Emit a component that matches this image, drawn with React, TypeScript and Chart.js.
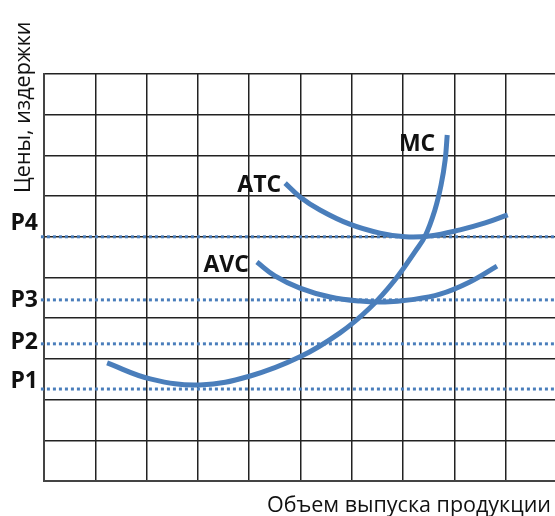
import React, { useEffect, useRef } from "react";
import { Chart, registerables } from "chart.js";

Chart.register(...registerables);

// Curve readings (x = output quantity in grid units, y = price/cost in grid units)
const mcX = [1.23, 2.07, 3.04, 4.02, 4.99, 5.77, 6.35, 6.84, 7.23, 7.43, 7.62, 7.74, 7.82, 7.86];
const mcY = [2.9, 2.51, 2.36, 2.58, 3.05, 3.64, 4.25, 4.94, 5.63, 6.02, 6.66, 7.27, 7.89, 8.5];
const atcX = [4.7, 4.99, 5.38, 5.96, 6.55, 7.04, 7.52, 8.11, 8.6, 9.04];
const atcY = [7.32, 6.98, 6.66, 6.31, 6.09, 6.0, 6.02, 6.17, 6.34, 6.54];
const avcX = [4.15, 4.5, 4.99, 5.58, 6.16, 6.65, 7.13, 7.72, 8.3, 8.83];
const avcY = [5.38, 5.04, 4.74, 4.52, 4.42, 4.4, 4.45, 4.59, 4.89, 5.28];

const priceLabels = ["P1", "P2", "P3", "P4"];
const priceLevels = [2.26, 3.37, 4.45, 6.0];

const curveNames = ["MC", "ATC", "AVC"];
const xTitle = "Объем выпуска продукции";
const yTitle = "Цены, издержки";

const xMin = 0;
const xMax = 10;
const yMin = 0;
const yMax = 10;

const BLUE = "#4a7ebb";

const toPoints = (xs: number[], ys: number[]) => xs.map((x, i) => ({ x, y: ys[i] }));

const labelsPlugin = {
  id: "econLabels",
  afterDatasetsDraw(chart: any) {
    const ctx = chart.ctx;
    const xs = chart.scales.x;
    const ys = chart.scales.y;
    ctx.save();
    ctx.fillStyle = "#111";
    ctx.font = "bold 23px 'Open Sans'";
    ctx.textBaseline = "alphabetic";
    ctx.textAlign = "right";
    // price labels on the left
    const pOffsets = [-1, 5, 7, -7];
    priceLevels.forEach((p, i) => {
      ctx.fillText(priceLabels[i], xs.getPixelForValue(xMin) - 6, ys.getPixelForValue(p) + pOffsets[i]);
    });
    // curve labels
    const mcEnd = mcX.length - 1;
    ctx.fillText(curveNames[0], xs.getPixelForValue(mcX[mcEnd]) - 12, ys.getPixelForValue(mcY[mcEnd]) + 16);
    ctx.fillText(curveNames[1], xs.getPixelForValue(atcX[0]) - 4, ys.getPixelForValue(atcY[0]) + 9);
    ctx.fillText(curveNames[2], xs.getPixelForValue(avcX[0]) - 8, ys.getPixelForValue(avcY[0]) + 10);

    // axis titles
    ctx.font = "21.5px 'Open Sans'";
    ctx.textAlign = "right";
    ctx.fillText(xTitle, 551, 512);
    ctx.save();
    ctx.translate(30, 193);
    ctx.rotate(-Math.PI / 2);
    ctx.textAlign = "left";
    ctx.fillText(yTitle, 0, 0);
    ctx.restore();
    ctx.restore();
  },
};

export default function App() {
  const ref = useRef<HTMLCanvasElement | null>(null);
  useEffect(() => {
    if (!ref.current) return;
    const curveStyle = {
      borderColor: BLUE,
      borderWidth: 5,
      pointRadius: 0,
      fill: false,
      tension: 0.4,
      showLine: true,
    };
    const dotted = priceLevels.map((p, i) => ({
      label: priceLabels[i],
      data: [
        { x: xMin - 0.06, y: p },
        { x: xMax, y: p },
      ],
      borderColor: BLUE,
      borderWidth: 3,
      borderDash: [3, 3],
      pointRadius: 0,
      fill: false,
      clip: false as any,
      showLine: true,
    }));
    const chart = new Chart(ref.current, {
      type: "scatter",
      data: {
        datasets: [
          { label: curveNames[0], data: toPoints(mcX, mcY), ...curveStyle },
          { label: curveNames[1], data: toPoints(atcX, atcY), ...curveStyle },
          { label: curveNames[2], data: toPoints(avcX, avcY), ...curveStyle },
          ...dotted,
        ] as any,
      },
      options: {
        responsive: false,
        devicePixelRatio: 1,
        animation: false,
        layout: { padding: { left: 44, top: 74, right: 0, bottom: 35 } },
        plugins: { legend: { display: false }, tooltip: { enabled: false } },
        scales: {
          x: {
            type: "linear",
            min: xMin,
            max: xMax,
            ticks: { display: false, stepSize: 1 },
            grid: { color: "#222", lineWidth: 1.5, drawTicks: false },
            border: { color: "#444", width: 2 },
          },
          y: {
            type: "linear",
            min: yMin,
            max: yMax,
            ticks: { display: false, stepSize: 1 },
            grid: { color: "#222", lineWidth: 1.5, drawTicks: false },
            border: { color: "#444", width: 2 },
          },
        },
      },
      plugins: [labelsPlugin],
    });
    return () => chart.destroy();
  }, []);
  return (
    <div
      style={{
        position: "fixed",
        left: 0,
        top: 0,
        width: 555,
        height: 516,
        overflow: "hidden",
        background: "#fff",
      }}
    >
      <canvas ref={ref} width={557} height={516} style={{ display: "block", width: 557, height: 516 }} />
    </div>
  );
}
